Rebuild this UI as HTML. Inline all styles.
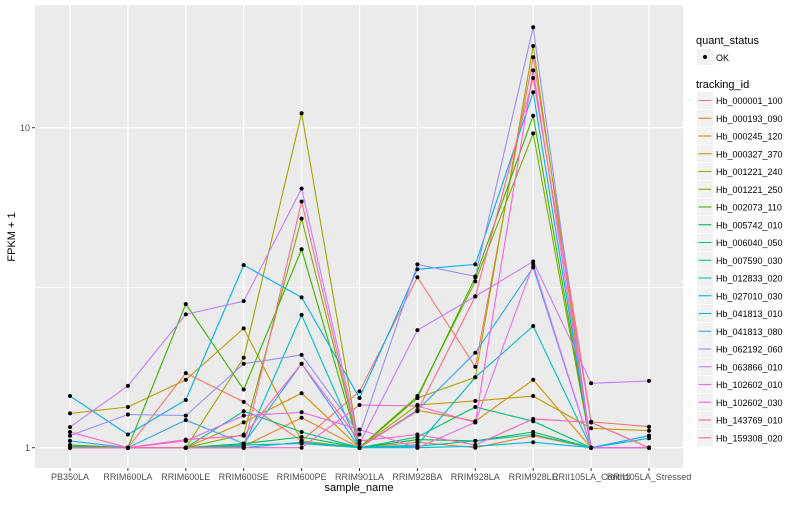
<!DOCTYPE html>
<html><head><meta charset="utf-8">
<style>
body{margin:0;background:#fff;font-family:"Liberation Sans",sans-serif;}
svg text{font-family:"Liberation Sans",sans-serif;}
</style></head>
<body>
<svg id="chart" width="800" height="500" xmlns="http://www.w3.org/2000/svg"></svg>
<script>
const categories=["PB350LA","RRIM600LA","RRIM600LE","RRIM600SE","RRIM600PE","RRIM901LA","RRIM928BA","RRIM928LA","RRIM928LE","RRII105LA_Control","RRII105LA_Stressed"];
const seriesNames=["Hb_000001_100","Hb_000193_090","Hb_000245_120","Hb_000327_370","Hb_001221_240","Hb_001221_250","Hb_002073_110","Hb_005742_010","Hb_006040_050","Hb_007590_030","Hb_012833_020","Hb_027010_030","Hb_041813_010","Hb_041813_080","Hb_062192_060","Hb_063866_010","Hb_102602_010","Hb_102602_030","Hb_143769_010","Hb_159308_020"];
const seriesColors=["#F8766D","#EA8331","#D89000","#C09B00","#A3A500","#7CAE00","#39B600","#00BB4E","#00BF7D","#00C1A3","#00BFC4","#00BAE0","#00B0F6","#35A2FF","#9590FF","#C77CFF","#E76BF3","#FA62DB","#FF62BC","#FF6C91"];
const s0=[1,1,1.71,1.39,1.05,1.5,3.41,1.79,16.6,1.205,1.163];
const s1=[1,1,1,1.01,1.24,1,1.04,1,1.09,1,1];
const s2=[1,1,1,1.2,1.48,1,1.31,1.21,1.63,1,1];
const s3=[1.28,1.34,1.63,2.36,1.05,1,1.36,1.4,1.45,1.15,1.13];
const s4=[1,1,1,1.91,11.1,1,1.43,1.66,18.0,1,1];
const s5=[1,1,1,1.1,5.2,1,1.45,3.31,9.6,1,1];
const s6=[1.02,1,2.81,1.52,4.17,1,1.43,3.41,10.9,1,1];
const s7=[1,1,1,1.03,1.08,1,1.06,1.05,1.12,1,1];
const s8=[1.01,1,1,1.3,1.12,1,1.08,1.34,1.21,1,1];
const s9=[1,1,1,1.02,1.03,1,1.01,1.05,1.1,1,1];
const s10=[1,1,1,1.01,2.6,1,1.02,1.66,2.4,1,1];
const s11=[1,1,1,1,1.04,1,1,1.01,1.04,1,1.07];
const s12=[1.45,1.1,1.41,3.72,2.95,1.43,3.61,3.74,12.9,1,1.09];
const s13=[1.05,1,1.22,1.03,1.83,1,1.31,1.98,3.66,1,1.09];
const s14=[1.09,1.27,1.26,1.83,1.95,1.1,3.74,3.43,20.6,1,1];
const s15=[1.16,1.56,2.61,2.87,6.45,1.03,2.33,2.97,3.82,1.59,1.617];
const s16=[1,1,1.05,1.26,1.29,1.14,1,1.2,3.74,1,1];
const s17=[1,1,1,1,1,1.36,1.35,1.2,15.1,1,1];
const s18=[1.12,1,1.06,1.09,1.83,1.05,1.1,1.02,1.23,1.2,1];
const s19=[1,1,1,1,5.88,1,1.3,2.97,14.3,1.2,1];
const seriesValues=[s0,s1,s2,s3,s4,s5,s6,s7,s8,s9,s10,s11,s12,s13,s14,s15,s16,s17,s18,s19];
const yTicks=[1,10];
const yTickLabels=["1","10"];

const NS="http://www.w3.org/2000/svg";
const svg=document.getElementById('chart');
const P={l:35,r:683,t:5,b:468};
const x0=70,dx=57.9;
function xs(i){return x0+i*dx;}
function ys(v){return 447.7-Math.log10(v)*320;}
function mk(tag,attrs,parent){const e=document.createElementNS(NS,tag);for(const k in attrs)e.setAttribute(k,attrs[k]);(parent||svg).appendChild(e);return e;}

const panel=mk('rect',{x:P.l,y:P.t,width:P.r-P.l,height:P.b-P.t,fill:'#EBEBEB'});


[Math.sqrt(10)].forEach(v=>{const g=mk('line',{x1:P.l,x2:P.r,y1:ys(v),y2:ys(v),stroke:'#fff','stroke-width':0.6});

});
yTicks.forEach((v,i)=>{
 const g=mk('line',{x1:P.l,x2:P.r,y1:ys(v),y2:ys(v),stroke:'#fff','stroke-width':1.2});
 
 
 const t=mk('line',{x1:P.l-3,x2:P.l,y1:ys(v),y2:ys(v),stroke:'#333','stroke-width':1});
 
 
 const l=mk('text',{x:P.l-5,y:ys(v)+3.5,'text-anchor':'end','font-size':9,fill:'#4D4D4D'});
 l.textContent=yTickLabels[i];
 
 
});
categories.forEach((c,i)=>{
 const g=mk('line',{x1:xs(i),x2:xs(i),y1:P.t,y2:P.b,stroke:'#fff','stroke-width':1.2});
 
 
 const t=mk('line',{x1:xs(i),x2:xs(i),y1:P.b,y2:P.b+3,stroke:'#333','stroke-width':1});
 
 
 const l=mk('text',{x:xs(i),y:P.b+12,'text-anchor':'middle','font-size':9,fill:'#4D4D4D'});
 l.textContent=c;
 
 
});
seriesValues.forEach((vals,si)=>{
 const d=vals.map((v,i)=>(i?'L':'M')+xs(i).toFixed(1)+','+ys(v).toFixed(1)).join(' ');
 const p=mk('path',{d:d,fill:'none',stroke:seriesColors[si],'stroke-width':1.1});
 
 
});
seriesValues.forEach((vals,si)=>{
 vals.forEach((v,i)=>{
  const c=mk('circle',{cx:xs(i),cy:ys(v),r:2,fill:'#000'});
  
  
 });
});
const xt=mk('text',{x:359,y:491,'text-anchor':'middle','font-size':11,fill:'#000'});
xt.textContent='sample_name';


const yt=mk('text',{x:15,y:237,'text-anchor':'middle','font-size':11,fill:'#000',transform:'rotate(-90 15 237)'});
yt.textContent='FPKM + 1';



const lg=mk('g',{});


const q=mk('text',{x:696,y:44,'font-size':11,fill:'#000'},lg);
q.textContent='quant_status';


mk('rect',{x:697,y:49,width:16,height:16,fill:'#F2F2F2'},lg);
mk('circle',{cx:705,cy:57,r:2,fill:'#000'},lg);
const ok=mk('text',{x:716,y:61,'font-size':9,fill:'#000'},lg);
ok.textContent='OK';


const tt=mk('text',{x:696,y:88,'font-size':11,fill:'#000'},lg);
tt.textContent='tracking_id';


seriesNames.forEach((n,i)=>{
 const y=92+i*17.75;
 mk('rect',{x:697,y:y,width:16,height:17,fill:'#F2F2F2'},lg);
 mk('line',{x1:698.5,x2:711.5,y1:y+8.5,y2:y+8.5,stroke:seriesColors[i],'stroke-width':1.1},lg);
 const t=mk('text',{x:716,y:y+12,'font-size':9,fill:'#000'},lg);
 t.textContent=n;
 
 
});
</script>
</body></html>
